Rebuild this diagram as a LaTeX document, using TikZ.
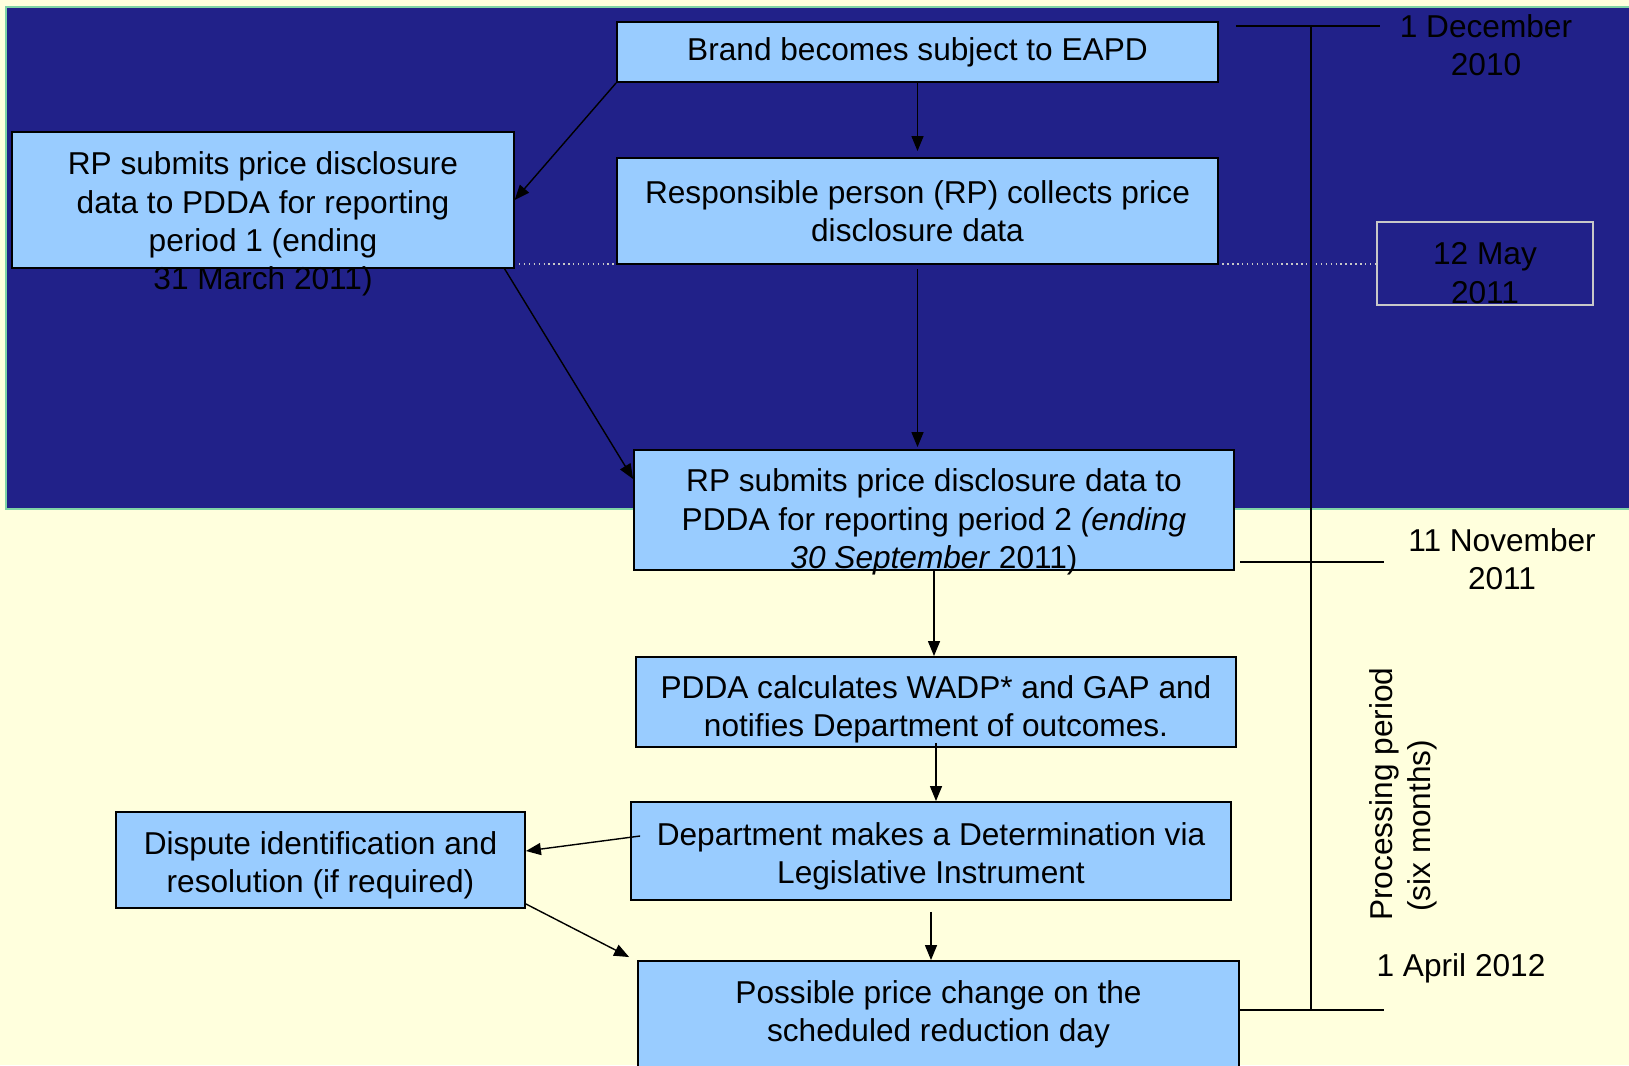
\documentclass[tikz,border=0pt]{standalone}
\usepackage{fontspec}
\setmainfont{Liberation Sans}
\usetikzlibrary{arrows.meta}

\definecolor{crema}{HTML}{FFFFDD}
\definecolor{marino}{HTML}{212189}
\definecolor{celeste}{HTML}{99CCFF}
\definecolor{verdeborde}{HTML}{7FD3A6}
\definecolor{gris}{HTML}{C8C8C8}

\begin{document}
\begin{tikzpicture}[x=0.02cm, y=-0.02cm,
    every node/.style={font=\fontsize{18}{21.8}\selectfont, align=center, inner sep=0pt},
    caja/.style={draw=black, line width=1.1pt, fill=celeste},
    flecha/.style={-{Triangle[length=0.3cm, width=0.24cm]}, line width=0.8pt},
    linea/.style={line width=1.1pt}]

            % Fondo
            \useasboundingbox (0,0) rectangle (1629,1065);
            \fill[crema] (0,0) rectangle (1629,1065);
            \fill[marino] (6,7) rectangle (1629,509);
            \draw[verdeborde, line width=0.8pt] (1629,7) -- (6,7) -- (6,509) -- (1629,509);
            \draw[gris, dotted, line width=0.8pt] (514,264) -- (1377,264);

            % Cajas
            \node[caja, minimum width=12.02cm, minimum height=1.2cm] (brand) at (917.5,52) {Brand becomes subject to EAPD};
            \node[caja, minimum width=12.02cm, minimum height=2.12cm] (resp) at (917.5,211) {Responsible person (RP) collects price\\disclosure data};
            \node[caja, minimum width=10.03cm, minimum height=2.72cm] (rp1) at (263,200) {};
            \node (rp1txt) at (263,224) {RP submits price disclosure\\data to PDDA for reporting\\period 1 (ending\\31 March 2011)};
            \node[caja, minimum width=12cm, minimum height=2.4cm] (rp2) at (934,510) {};
            \node (rp2txt) at (934,522) {RP submits price disclosure data to\\PDDA for reporting period 2 \textit{(ending}\\\textit{30 September} 2011)};
            \node[caja, minimum width=12cm, minimum height=1.8cm] (pdda) at (936,702) {};
            \node (pddatxt) at (936,709) {PDDA calculates WADP* and GAP and\\notifies Department of outcomes.};
            \node[caja, minimum width=12cm, minimum height=1.96cm] (dept) at (931,851) {};
            \node (depttxt) at (931,856) {Department makes a Determination via\\Legislative Instrument};
            \node[caja, minimum width=8.18cm, minimum height=1.92cm] (disp) at (320.5,860) {};
            \node (disptxt) at (320.5,865) {Dispute identification and\\resolution (if required)};
            \node[caja, minimum width=12.02cm, minimum height=2.6cm] (poss) at (938.5,1026) {};
            \node (posstxt) at (938.5,1014) {Possible price change on the\\scheduled reduction day};
            \node[draw=gris, line width=1.1pt, minimum width=4.32cm, minimum height=1.66cm] (mayo) at (1485,263.5) {};
            \node (mayotxt) at (1485,273) {12 May\\2011};

            % Fechas
            \node (dic) at (1486,45) {1 December\\2010};
            \node (nov) at (1502,559) {11 November\\2011};
            \node (abr) at (1461,968) {1 April 2012};
            \node[rotate=90, anchor=west, align=left] (proc) at (1403,921) {Processing period\\~(six months)};

            % Linea de tiempo
            \draw[linea] (1236,26) -- (1380,26);
            \draw[linea] (1240,562) -- (1384,562);
            \draw[linea] (1240,1010) -- (1384,1010);
            \draw[linea] (1311,26) -- (1311,1010);

            % Flechas
            \draw[flecha] (brand.south) -- ([yshift=0.12cm]resp.north);
            \draw[flecha] (brand.south west) -- (rp1.east);
            \draw[flecha] ([yshift=-0.08cm]resp.south) -- ([yshift=0.04cm]resp.south |- rp2.north);
            \draw[flecha] ([xshift=-0.2cm]rp1.south east) -- ([yshift=0.62cm]rp2.west);
            \draw[flecha] (rp2.south) -- (rp2.south |- pdda.north);
            \draw[flecha] ([yshift=0.1cm]pdda.south) -- (pdda.south |- dept.north);
            \draw[flecha] ([xshift=0.2cm, yshift=0.3cm]dept.west) -- ([yshift=0.18cm]disp.east);
            \draw[flecha] ([yshift=0.1cm]disp.south east) -- ([xshift=-0.16cm, yshift=0.06cm]poss.north west);
            \draw[flecha] ([yshift=-0.22cm]dept.south) -- (dept.south |- poss.north);
          \end{tikzpicture}
\end{document}
